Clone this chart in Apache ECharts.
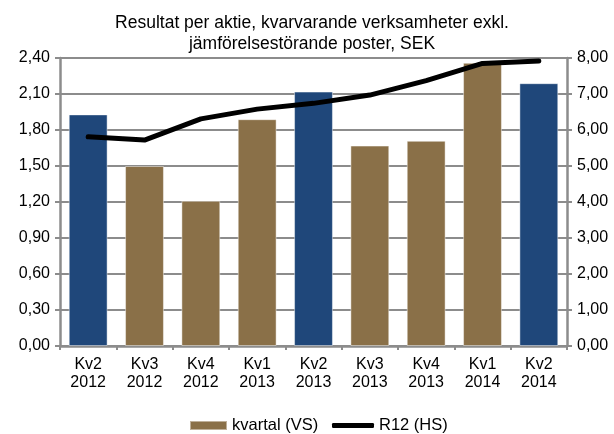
<!DOCTYPE html>
<html>
<head>
<meta charset="utf-8">
<script src="https://cdn.jsdelivr.net/npm/echarts@6/dist/echarts.min.js"></script>
<style>
  html, body { margin: 0; padding: 0; background: #fff; }
  #chart { width: 614px; height: 434px; }
</style>
</head>
<body>
<div id="chart"></div>
<script>
var categories = ['Kv2\n2012', 'Kv3\n2012', 'Kv4\n2012', 'Kv1\n2013', 'Kv2\n2013',
                  'Kv3\n2013', 'Kv4\n2013', 'Kv1\n2014', 'Kv2\n2014'];
var kvartal = [1.93, 1.50, 1.21, 1.89, 2.12, 1.67, 1.71, 2.36, 2.19];
var r12 = [5.81, 5.72, 6.31, 6.58, 6.74, 6.97, 7.37, 7.85, 7.92];
var leftTicks = { min: 0, max: 2.4, interval: 0.3 };
var rightTicks = { min: 0, max: 8, interval: 1 };

var font = 'Liberation Sans, Arial, sans-serif';
var brown = '#8a7048';
var blue = '#1f477a';
var gridGray = '#8c8c8c';

function fmt(v) {
    return v.toFixed(2).replace('.', ',');
}

// Kv2 quarters are drawn blue, the rest brown
var barData = kvartal.map(function (v, i) {
    var isKv2 = categories[i].indexOf('Kv2') === 0;
    return { value: v, itemStyle: { color: isKv2 ? blue : brown } };
});

var legendText = { fontFamily: font, fontSize: 16.5, color: '#000' };

var chart = echarts.init(document.getElementById('chart'));
var option = {
    animation: false,
    textStyle: { fontFamily: font },
    title: {
        text: 'Resultat per aktie, kvarvarande verksamheter exkl.\njämförelsestörande poster, SEK',
        left: 312,
        top: 12,
        padding: 0,
        textAlign: 'center',
        textStyle: {
            fontFamily: font,
            fontSize: 17.5,
            fontWeight: 'normal',
            color: '#000',
            lineHeight: 21.5
        }
    },
    legend: [
        {
            left: 189,
            top: 417,
            padding: 0,
            itemWidth: 37,
            itemHeight: 9,
            textStyle: legendText,
            data: [{ name: 'kvartal (VS)', icon: 'rect', itemStyle: { color: brown } }]
        },
        {
            left: 332,
            top: 417,
            padding: 0,
            itemWidth: 42,
            itemHeight: 5,
            textStyle: legendText,
            data: [{ name: 'R12 (HS)', icon: 'roundRect', itemStyle: { color: '#000' } }]
        }
    ],
    grid: { left: 60, right: 47, top: 58, bottom: 88 },
    xAxis: {
        type: 'category',
        data: categories,
        axisLine: { lineStyle: { color: gridGray, width: 2.5 } },
        axisTick: { show: true, length: 4, lineStyle: { color: gridGray, width: 2 } },
        axisLabel: { color: '#000', fontSize: 16, lineHeight: 18, margin: 10, fontFamily: font }
    },
    yAxis: [
        {
            type: 'value',
            min: leftTicks.min, max: leftTicks.max, interval: leftTicks.interval,
            axisLine: { show: true, lineStyle: { color: gridGray, width: 2.5 } },
            axisTick: { show: true, length: 5, lineStyle: { color: gridGray, width: 2 } },
            splitLine: { lineStyle: { color: gridGray, width: 2 } },
            axisLabel: { color: '#000', fontSize: 16, margin: 10, fontFamily: font, formatter: fmt }
        },
        {
            type: 'value',
            min: rightTicks.min, max: rightTicks.max, interval: rightTicks.interval,
            axisLine: { show: true, lineStyle: { color: gridGray, width: 2.5 } },
            axisTick: { show: true, length: 5, lineStyle: { color: gridGray, width: 2 } },
            splitLine: { show: false },
            axisLabel: { color: '#000', fontSize: 16, margin: 10, fontFamily: font, formatter: fmt }
        }
    ],
    series: [
        {
            name: 'kvartal (VS)',
            type: 'bar',
            yAxisIndex: 0,
            barWidth: '69%',
            itemStyle: { color: brown, borderColor: 'rgba(255,255,255,0.45)', borderWidth: 1 },
            data: barData
        },
        {
            name: 'R12 (HS)',
            type: 'line',
            yAxisIndex: 1,
            symbol: 'none',
            lineStyle: { color: '#000', width: 5, cap: 'round', join: 'round' },
            itemStyle: { color: '#000' },
            data: r12
        }
    ]
};
chart.setOption(option);
</script>
</body>
</html>
